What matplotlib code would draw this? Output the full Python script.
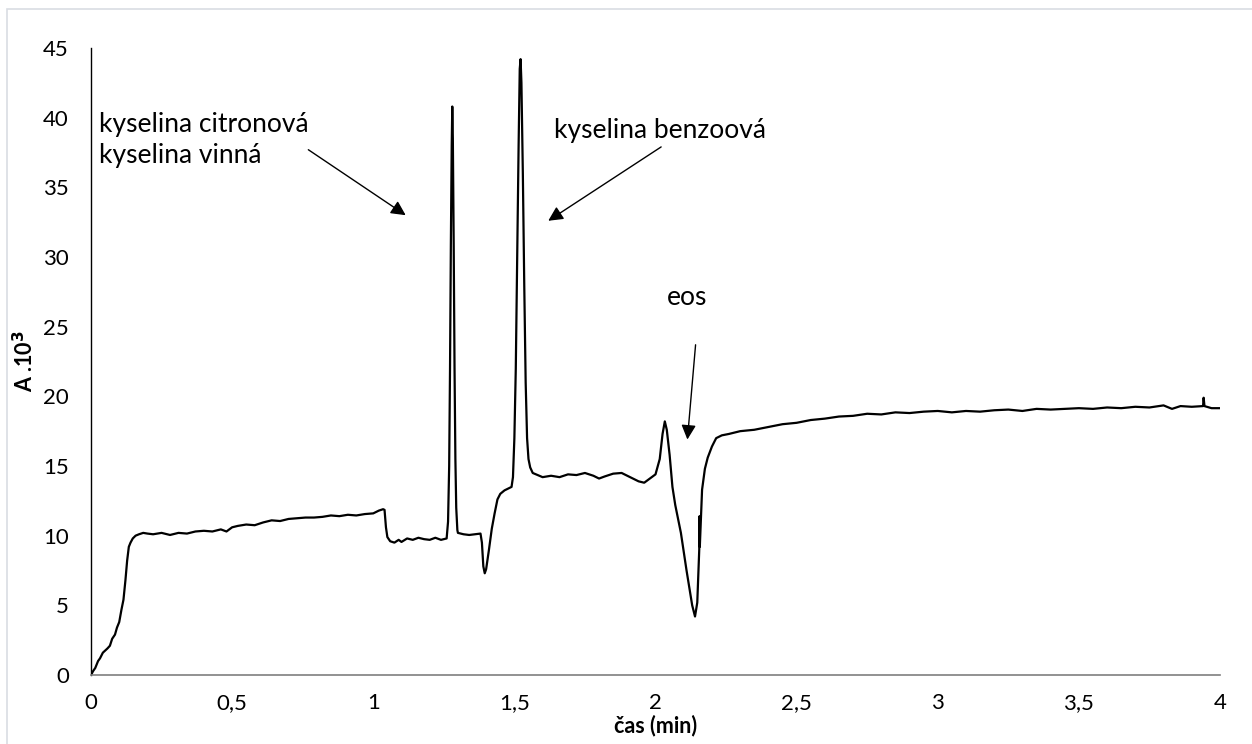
import numpy as np
import matplotlib.pyplot as plt
from matplotlib.patches import Rectangle

plt.rcParams['font.family'] = ['Lato', 'DejaVu Sans']

# cas (min) a absorbance (A.10^3)
cas = [
    0, 0.008, 0.015, 0.025, 0.032, 0.042, 0.05, 0.058, 0.067, 0.075, 0.085, 0.092,
    0.1, 0.108, 0.115, 0.122, 0.128, 0.134, 0.14, 0.148, 0.158, 0.17, 0.185, 0.2,
    0.22, 0.25, 0.28, 0.31, 0.34, 0.37, 0.4, 0.43, 0.46, 0.48, 0.5, 0.52, 0.55, 0.58,
    0.61, 0.64, 0.67, 0.7, 0.73, 0.76, 0.79, 0.82, 0.85, 0.88, 0.91, 0.94, 0.97, 1.0,
    1.02, 1.035, 1.04, 1.045, 1.05, 1.06, 1.075, 1.09, 1.1, 1.12, 1.14, 1.16, 1.18,
    1.2, 1.22, 1.24, 1.26,
    1.265, 1.269, 1.272, 1.275, 1.278, 1.28, 1.282, 1.285, 1.288, 1.291, 1.294, 1.298,
    1.3, 1.32, 1.34, 1.36, 1.38, 1.385, 1.39, 1.395, 1.4, 1.41, 1.42, 1.43, 1.44,
    1.45, 1.465, 1.48, 1.49,
    1.495, 1.5, 1.505, 1.51, 1.515, 1.519, 1.522, 1.525, 1.53, 1.535, 1.54, 1.545,
    1.55, 1.556, 1.565, 1.6, 1.63, 1.66, 1.69, 1.72, 1.75, 1.78, 1.8, 1.82, 1.85,
    1.88, 1.91, 1.94, 1.96, 1.98, 2.0, 2.015, 2.025, 2.033, 2.04, 2.05, 2.06, 2.07,
    2.09, 2.11, 2.13, 2.14, 2.148, 2.155, 2.156, 2.157, 2.165, 2.175, 2.185, 2.2,
    2.215, 2.235, 2.26, 2.3, 2.35, 2.4, 2.45, 2.5, 2.55, 2.6, 2.65, 2.7, 2.75, 2.8,
    2.85, 2.9, 2.95, 3.0, 3.05, 3.1, 3.15, 3.2, 3.25, 3.3, 3.35, 3.4, 3.45, 3.5,
    3.55, 3.6, 3.65, 3.7, 3.75, 3.8, 3.83, 3.86, 3.9, 3.94, 3.942, 3.945, 3.97, 4.0,
]
absorbance = [
    0, 0.3, 0.5, 1.0, 1.2, 1.6, 1.75, 1.9, 2.1, 2.6, 2.9, 3.4,
    3.8, 4.7, 5.4, 6.8, 8.2, 9.2, 9.5, 9.8, 10.0, 10.1, 10.2, 10.15,
    10.1, 10.2, 10.05, 10.2, 10.15, 10.3, 10.35, 10.3, 10.45, 10.3, 10.6, 10.7, 10.8, 10.75,
    10.95, 11.1, 11.05, 11.2, 11.25, 11.3, 11.3, 11.35, 11.45, 11.4, 11.5, 11.45, 11.55, 11.6,
    11.8, 11.9, 11.85, 10.6, 9.9, 9.6, 9.5, 9.7, 9.55, 9.8, 9.7, 9.85, 9.75,
    9.7, 9.85, 9.7, 9.8,
    11, 15, 22, 31, 38, 40.8, 38.5, 31, 22, 15.5, 12, 10.4,
    10.2, 10.1, 10.05, 10.1, 10.15, 9.5, 7.8, 7.3, 7.6, 9.0, 10.5, 11.6, 12.6,
    13.0, 13.25, 13.4, 13.5,
    14.2, 17, 22, 30, 38, 43.5, 44.2, 42.5, 36, 28, 21, 17,
    15.5, 14.9, 14.5, 14.2, 14.3, 14.2, 14.4, 14.35, 14.5, 14.3, 14.1, 14.25, 14.45,
    14.5, 14.2, 13.9, 13.8, 14.1, 14.4, 15.5, 17.3, 18.2, 17.6, 15.8, 13.5, 12.2,
    10.2, 7.5, 5.0, 4.2, 5.2, 9.0, 11.4, 9.2, 13.3, 14.8, 15.6, 16.4,
    17.0, 17.2, 17.3, 17.5, 17.6, 17.8, 18.0, 18.1, 18.3, 18.4, 18.55, 18.6, 18.75, 18.7,
    18.85, 18.8, 18.9, 18.95, 18.85, 18.95, 18.9, 19.0, 19.05, 18.95, 19.1, 19.05, 19.1, 19.15,
    19.1, 19.2, 19.15, 19.25, 19.2, 19.35, 19.1, 19.3, 19.25, 19.3, 19.9, 19.3, 19.15, 19.15,
]

x_ticks = [0, 0.5, 1, 1.5, 2, 2.5, 3, 3.5, 4]
y_ticks = [0, 5, 10, 15, 20, 25, 30, 35, 40, 45]

# popisky piku: text, pozice textu, konec sipky, zacatek sipky
popisky = [
    ("kyselina citronová\nkyselina vinná", (0.03, 38.4), (1.115, 33.0), (0.77, 37.7)),
    ("kyselina benzoová", (2.015, 39.1), (1.62, 32.6), (2.02, 37.9)),
    ("eos", (2.113, 27.1), (2.113, 16.9), (2.142, 23.7)),
]

fig = plt.figure(figsize=(12.52, 7.44), dpi=100)
ax = fig.add_axes([91 / 1252, 1 - 675 / 744, (1220 - 91) / 1252, (675 - 48) / 744])

ax.plot(cas, absorbance, color="black", linewidth=1.6)

ax.set_xlim(0, 4)
ax.set_ylim(0, 45)
ax.set_xticks(x_ticks)
ax.set_xticklabels([f"{v:g}".replace(".", ",") for v in x_ticks])
ax.set_yticks(y_ticks)
ax.tick_params(axis="both", length=0, labelsize=16)
ax.tick_params(axis="y", pad=16)
ax.tick_params(axis="x", pad=13)

for s in ["top", "right"]:
    ax.spines[s].set_visible(False)
ax.spines["left"].set_color("black")
ax.spines["left"].set_linewidth(1.0)
ax.spines["bottom"].set_color("#7f7f7f")
ax.spines["bottom"].set_linewidth(1.2)

ax.set_xlabel("čas (min)", fontsize=15.5, fontweight="bold", labelpad=1)
ax.set_ylabel("A .10$^\\mathbf{3}$", fontsize=15.5, fontweight="bold", labelpad=4)

for text, pos, head, tail in popisky:
    ax.text(pos[0], pos[1], text, fontsize=19, ha="left" if "\n" in text else "center",
            va="center", linespacing=1.3)
    ax.annotate("", xy=head, xytext=tail,
                arrowprops=dict(arrowstyle="-|>", color="black", lw=1.0,
                                mutation_scale=22, shrinkA=0, shrinkB=0))

# svetle oramovani grafu
fig.patches.append(Rectangle((7 / 1252, -0.1), 1.2, 1.1 - 9.5 / 744, transform=fig.transFigure,
                             fill=False, edgecolor="#d9dde3", linewidth=1.2))

fig.savefig("out.png", dpi=100)
